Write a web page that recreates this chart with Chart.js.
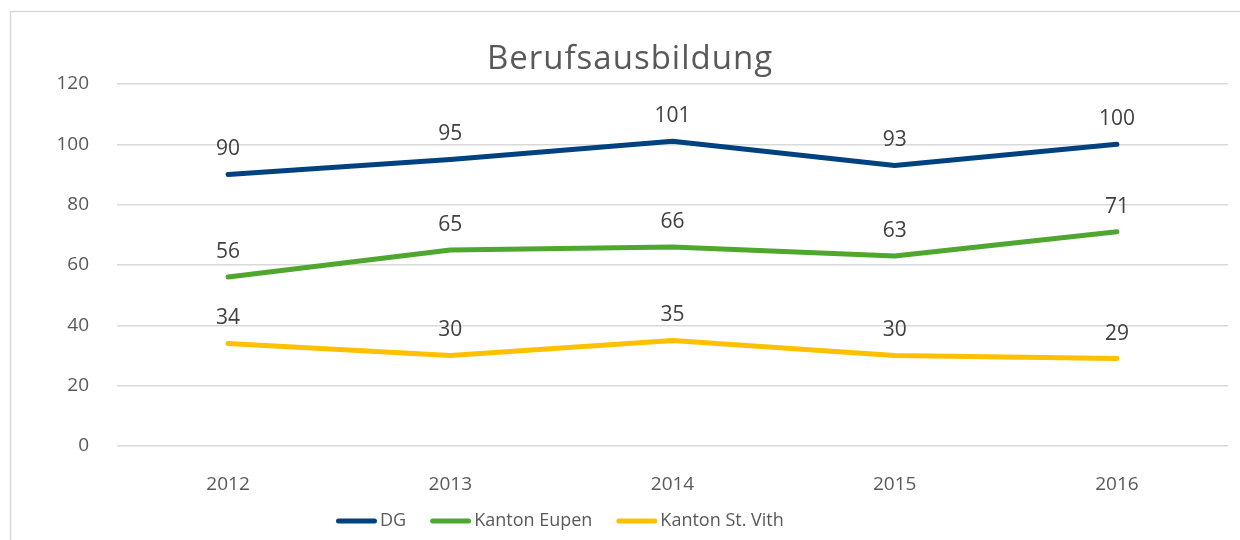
<!DOCTYPE html>
<html>
<head>
<meta charset="utf-8">
<script src="https://cdn.jsdelivr.net/npm/chart.js@4.4.1/dist/chart.umd.min.js"></script>
<style>
  html, body { margin: 0; padding: 0; background: #ffffff; }
  #wrap { position: relative; width: 1240px; height: 540px; overflow: hidden; }
  canvas { display: block; }
</style>
</head>
<body>
<div id="wrap"><canvas id="c" width="1240" height="540"></canvas></div>
<script>
const categories = ['2012', '2013', '2014', '2015', '2016'];
const seriesNames = ['DG', 'Kanton Eupen', 'Kanton St. Vith'];
const dgValues = [90, 95, 101, 93, 100];
const eupenValues = [56, 65, 66, 63, 71];
const stVithValues = [34, 30, 35, 30, 29];
const yTicks = [0, 20, 40, 60, 80, 100, 120];
const titleText = 'Berufsausbildung';

const colors = ['#00427f', '#4fa72f', '#ffc000'];
const FONT = "'Open Sans', 'DejaVu Sans', sans-serif";
const TEXT = '#595959';

const borderPlugin = {
  id: 'frame',
  beforeDraw(chart) {
    const ctx = chart.ctx;
    ctx.save();
    ctx.strokeStyle = '#d9d9d9';
    ctx.lineWidth = 1.5;
    ctx.beginPath();
    ctx.moveTo(10.5, 545);
    ctx.lineTo(10.5, 11.5);
    ctx.lineTo(1245, 11.5);
    ctx.stroke();
    ctx.restore();
  }
};

const titlePlugin = {
  id: 'customTitle',
  afterDraw(chart) {
    const ctx = chart.ctx;
    ctx.save();
    ctx.font = '400 33px ' + FONT;
    try { ctx.letterSpacing = '1px'; } catch (e) {}
    ctx.fillStyle = TEXT;
    ctx.textAlign = 'center';
    ctx.textBaseline = 'middle';
    ctx.fillText(titleText, 630, 60);
    ctx.restore();
  }
};

const labelPlugin = {
  id: 'valueLabels',
  afterDatasetsDraw(chart) {
    const ctx = chart.ctx;
    ctx.save();
    ctx.font = '400 21px ' + FONT;
    ctx.fillStyle = '#404040';
    ctx.textAlign = 'center';
    ctx.textBaseline = 'middle';
    chart.data.datasets.forEach((ds, di) => {
      const meta = chart.getDatasetMeta(di);
      meta.data.forEach((pt, i) => {
        ctx.fillText(String(ds.data[i]), pt.x, pt.y - 25);
      });
    });
    ctx.restore();
  }
};

const legendPlugin = {
  id: 'customLegend',
  afterDraw(chart) {
    const ctx = chart.ctx;
    ctx.save();
    ctx.font = '400 18px ' + FONT;
    const markerW = 41, gapText = 3, gapItem = 24;
    const items = chart.data.datasets.map(ds => ({ text: ds.label, color: ds.borderColor, w: markerW + gapText + ctx.measureText(ds.label).width }));
    let x = 336;
    const y = 521;
    items.forEach(it => {
      ctx.strokeStyle = it.color;
      ctx.lineWidth = 5;
      ctx.lineCap = 'round';
      ctx.beginPath();
      ctx.moveTo(x + 2.5, y);
      ctx.lineTo(x + markerW - 2.5, y);
      ctx.stroke();
      ctx.fillStyle = TEXT;
      ctx.textAlign = 'left';
      ctx.textBaseline = 'middle';
      ctx.fillText(it.text, x + markerW + gapText, y);
      x += it.w + gapItem;
    });
    ctx.restore();
  }
};

const mkDs = (label, data, color) => ({
  label, data,
  borderColor: color, backgroundColor: color,
  borderWidth: 5, borderCapStyle: 'round', borderJoinStyle: 'round',
  pointRadius: 0, pointHoverRadius: 0, tension: 0, fill: false
});

new Chart(document.getElementById('c'), {
  type: 'line',
  data: {
    labels: categories,
    datasets: [
      mkDs(seriesNames[0], dgValues, colors[0]),
      mkDs(seriesNames[1], eupenValues, colors[1]),
      mkDs(seriesNames[2], stVithValues, colors[2])
    ]
  },
  plugins: [borderPlugin, titlePlugin, labelPlugin, legendPlugin],
  options: {
    responsive: false,
    animation: false,
    devicePixelRatio: 1,
    layout: { padding: { left: 10, right: 12, top: 84, bottom: 0 } },
    plugins: { legend: { display: false }, title: { display: false }, tooltip: { enabled: false } },
    scales: {
      x: {
        offset: true,
        grid: { display: false, drawTicks: false },
        border: { display: false },
        ticks: { color: TEXT, font: { family: FONT, size: 19 }, padding: 27, maxRotation: 0 },
        afterFit(scale) { scale.height = 94; }
      },
      y: {
        min: 0, max: 120,
        afterBuildTicks(scale) { scale.ticks = yTicks.map(v => ({ value: v })); },
        grid: { color: '#d9d9d9', lineWidth: 1.5, drawTicks: false },
        border: { display: false },
        ticks: { color: TEXT, font: { family: FONT, size: 19 }, padding: 28 },
        afterFit(scale) { scale.width = 107; }
      }
    }
  }
});
</script>
</body>
</html>
